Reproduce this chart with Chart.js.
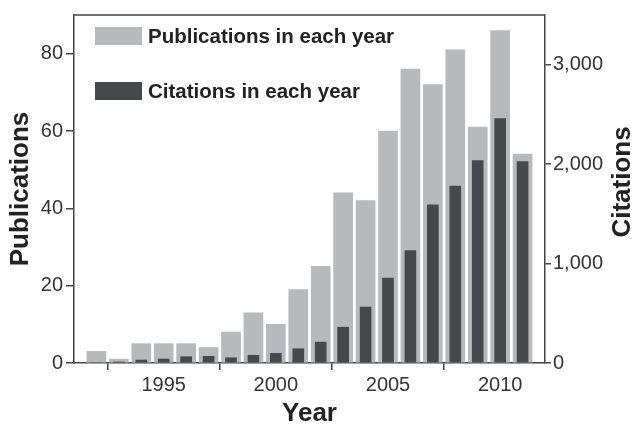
<!DOCTYPE html>
<html>
<head>
<meta charset="utf-8">
<title>Publications and citations per year</title>
<script src="https://cdn.jsdelivr.net/npm/chart.js@4.4.1/dist/chart.umd.min.js"></script>
<style>
  html, body { margin: 0; padding: 0; background: #ffffff; }
  #wrap { width: 636px; height: 427px; }
</style>
</head>
<body>
<div id="wrap"><canvas id="chart" width="636" height="427"></canvas></div>
<script>
// data
const years = [1992, 1993, 1994, 1995, 1996, 1997, 1998, 1999, 2000, 2001,
               2002, 2003, 2004, 2005, 2006, 2007, 2008, 2009, 2010, 2011];
const publications = [3, 1, 5, 5, 5, 4, 8, 13, 10, 19,
                      25, 44, 42, 60, 76, 72, 81, 61, 86, 54];
const citations = [0, 10, 30, 40, 63, 67, 53, 77, 97, 143,
                   210, 360, 563, 853, 1130, 1590, 1780, 2037, 2457, 2027];
const yearTicks = [1995, 2000, 2005, 2010];
const pubTicks = [0, 20, 40, 60, 80];
const citeTicks = [0, 1000, 2000, 3000];

const FONT = '"Liberation Sans", Arial, Helvetica, sans-serif';
const INK = '#333333';
const AXIS = '#444444';
const LIGHT = '#b8b9bd';
const DARK = '#47484b';

// legend inside the plot + frame top line + right axis title
const extras = {
    id: 'extras',
    afterDatasetsDraw(chart) {
        const ctx = chart.ctx;
        const area = chart.chartArea;
        ctx.save();
        // top frame line
        ctx.strokeStyle = AXIS;
        ctx.lineWidth = 1.5;
        ctx.beginPath();
        ctx.moveTo(area.left, area.top);
        ctx.lineTo(area.right, area.top);
        ctx.stroke();

        // legend, publications first
        const items = [chart.data.datasets[1], chart.data.datasets[0]];
        ctx.font = 'bold 20.5px ' + FONT;
        ctx.textBaseline = 'middle';
        ctx.textAlign = 'left';
        items.forEach((ds, i) => {
            const cy = 36 + i * 55;
            ctx.fillStyle = ds.backgroundColor;
            ctx.fillRect(95, cy - 9, 47, 18);
            ctx.fillStyle = '#222222';
            ctx.fillText(ds.label, 148, cy + 1);
        });

        // right axis title (reads bottom to top like the left one)
        ctx.translate(623, 182);
        ctx.rotate(-Math.PI / 2);
        ctx.textAlign = 'center';
        ctx.font = 'bold 26px ' + FONT;
        ctx.fillStyle = '#222222';
        ctx.fillText('Citations', 0, 0);
        ctx.restore();
    }
};

new Chart(document.getElementById('chart'), {
    type: 'bar',
    data: {
        datasets: [
            {
                label: 'Citations in each year',
                data: years.map((y, i) => ({ x: y, y: citations[i] })),
                yAxisID: 'y1',
                backgroundColor: DARK,
                barThickness: 11,
                grouped: false,
                order: 0
            },
            {
                label: 'Publications in each year',
                data: years.map((y, i) => ({ x: y, y: publications[i] })),
                yAxisID: 'y',
                backgroundColor: LIGHT,
                barThickness: 19,
                grouped: false,
                order: 1
            }
        ]
    },
    options: {
        responsive: false,
        animation: false,
        layout: { padding: { top: 13, left: 0, right: 0, bottom: 0 } },
        plugins: {
            legend: { display: false },
            tooltip: { enabled: false }
        },
        scales: {
            x: {
                type: 'linear',
                min: 1991,
                max: 2012,
                offset: false,
                afterBuildTicks: s => { s.ticks = yearTicks.map(v => ({ value: v })); },
                afterFit: s => { s.height = 64; },
                ticks: {
                    color: INK,
                    font: { family: FONT, size: 20 },
                    padding: 3,
                    maxRotation: 0,
                    callback: v => String(v)
                },
                grid: { drawOnChartArea: false, tickLength: 7, color: AXIS, lineWidth: 1.5 },
                border: { display: true, color: AXIS, width: 1.5 },
                title: {
                    display: true,
                    text: 'Year',
                    color: '#222222',
                    font: { family: FONT, size: 26, weight: 'bold', lineHeight: 1 },
                    padding: 0
                }
            },
            y: {
                position: 'left',
                min: 0,
                max: 90,
                afterBuildTicks: s => { s.ticks = pubTicks.map(v => ({ value: v })); },
                afterFit: s => { s.width = 74; },
                ticks: {
                    color: INK,
                    font: { family: FONT, size: 20 },
                    padding: 3
                },
                grid: { drawOnChartArea: false, tickLength: 8, color: AXIS, lineWidth: 1.5 },
                border: { display: true, color: AXIS, width: 1.5 },
                title: {
                    display: true,
                    text: 'Publications',
                    color: '#222222',
                    font: { family: FONT, size: 26, weight: 'bold', lineHeight: 1 },
                    padding: { top: 8, bottom: 0 }
                }
            },
            y1: {
                position: 'right',
                min: 0,
                max: 3500,
                afterBuildTicks: s => { s.ticks = citeTicks.map(v => ({ value: v })); },
                afterFit: s => { s.width = 91; },
                ticks: {
                    color: INK,
                    font: { family: FONT, size: 20 },
                    padding: 2,
                    callback: v => v.toLocaleString('en-US')
                },
                grid: { drawOnChartArea: false, tickLength: 6, color: AXIS, lineWidth: 1.5 },
                border: { display: true, color: AXIS, width: 1.5 }
            }
        }
    },
    plugins: [extras]
});
</script>
</body>
</html>
